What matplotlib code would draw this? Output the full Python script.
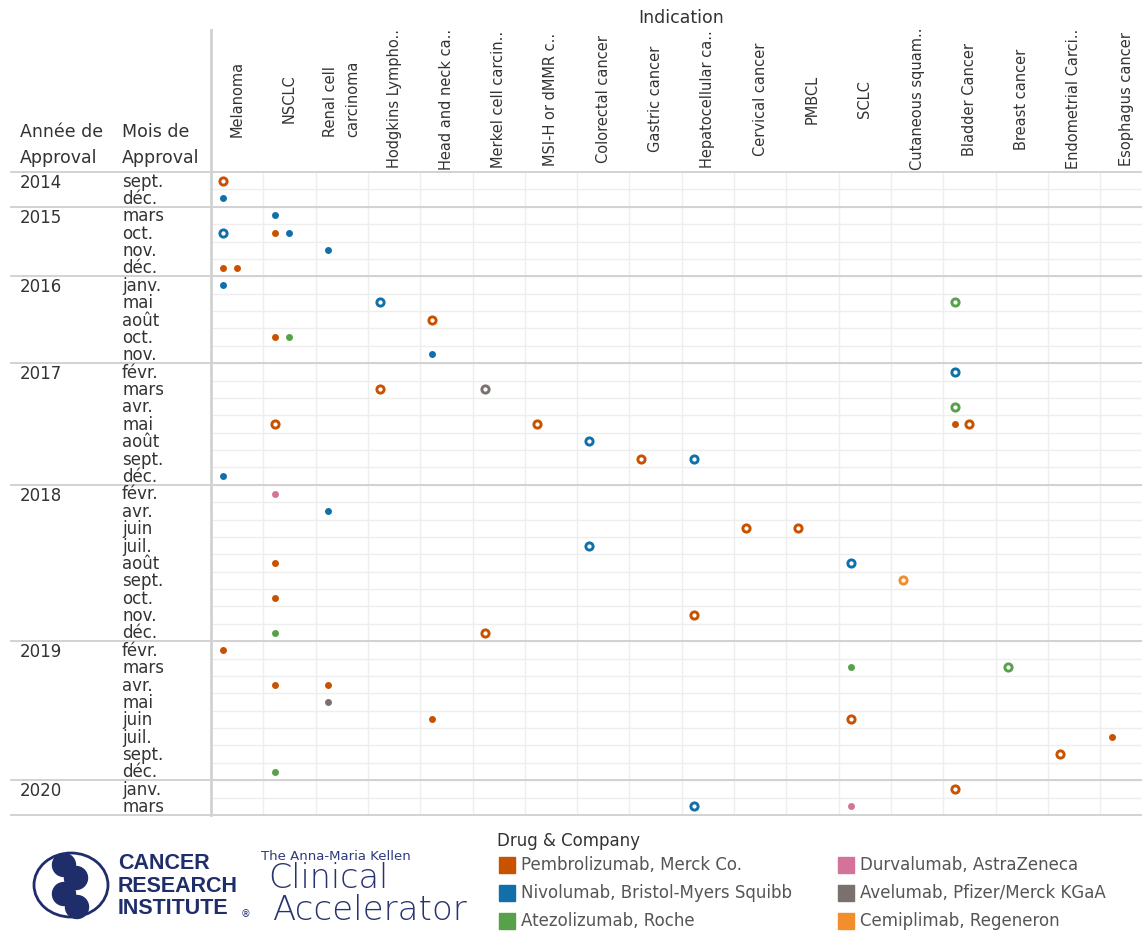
import matplotlib.pyplot as plt
from matplotlib.patches import Ellipse, Circle, Rectangle

plt.rcParams['font.family'] = ['DejaVu Sans']

W, H = 1142, 932

years = ['2014', '2015', '2016', '2017', '2018', '2019', '2020']
months = [
    ['sept.', 'déc.'],
    ['mars', 'oct.', 'nov.', 'déc.'],
    ['janv.', 'mai', 'août', 'oct.', 'nov.'],
    ['févr.', 'mars', 'avr.', 'mai', 'août', 'sept.', 'déc.'],
    ['févr.', 'avr.', 'juin', 'juil.', 'août', 'sept.', 'oct.', 'nov.', 'déc.'],
    ['févr.', 'mars', 'avr.', 'mai', 'juin', 'juil.', 'sept.', 'déc.'],
    ['janv.', 'mars'],
]

indications = ['Melanoma', 'NSCLC', 'Renal cell\ncarcinoma', 'Hodgkins Lympho..',
               'Head and neck ca..', 'Merkel cell carcin..', 'MSI-H or dMMR c..',
               'Colorectal cancer', 'Gastric cancer', 'Hepatocellular ca..',
               'Cervical cancer', 'PMBCL', 'SCLC', 'Cutaneous squam..',
               'Bladder Cancer', 'Breast cancer', 'Endometrial Carci..',
               'Esophagus cancer']

drugs = ['PEM', 'NIV', 'ATE', 'DUR', 'AVE', 'CEM']
drug_labels = ['Pembrolizumab, Merck Co.', 'Nivolumab, Bristol-Myers Squibb',
               'Atezolizumab, Roche', 'Durvalumab, AstraZeneca',
               'Avelumab, Pfizer/Merck KGaA', 'Cemiplimab, Regeneron']
drug_colors = ['#C85200', '#1170AA', '#57A14A', '#D4739A', '#7A706E', '#F28E2B']

# one entry per approval mark
appr_date = ['2014 sept.', '2014 déc.', '2015 mars', '2015 oct.', '2015 oct.',
             '2015 oct.', '2015 nov.', '2015 déc.', '2015 déc.', '2016 janv.',
             '2016 mai', '2016 mai', '2016 août', '2016 oct.', '2016 oct.',
             '2016 nov.', '2017 févr.', '2017 mars', '2017 mars', '2017 avr.',
             '2017 mai', '2017 mai', '2017 mai', '2017 mai', '2017 août',
             '2017 sept.', '2017 sept.', '2017 déc.', '2018 févr.', '2018 avr.',
             '2018 juin', '2018 juin', '2018 juil.', '2018 août', '2018 août',
             '2018 sept.', '2018 oct.', '2018 nov.', '2018 déc.', '2018 déc.',
             '2019 févr.', '2019 mars', '2019 mars', '2019 avr.', '2019 avr.',
             '2019 mai', '2019 juin', '2019 juin', '2019 juil.', '2019 sept.',
             '2019 déc.', '2020 janv.', '2020 mars', '2020 mars']
appr_ind = [0, 0, 1, 0, 1, 1, 2, 0, 0, 0,
            3, 14, 4, 1, 1, 4, 14, 3, 5, 14,
            1, 6, 14, 14, 7, 8, 9, 0, 1, 2,
            10, 11, 7, 1, 12, 13, 1, 9, 1, 5,
            0, 12, 15, 1, 2, 2, 4, 12, 17, 16,
            1, 14, 9, 12]
appr_drug = ['PEM', 'NIV', 'NIV', 'NIV', 'PEM', 'NIV', 'NIV', 'PEM', 'PEM', 'NIV',
             'NIV', 'ATE', 'PEM', 'PEM', 'ATE', 'NIV', 'NIV', 'PEM', 'AVE', 'ATE',
             'PEM', 'PEM', 'PEM', 'PEM', 'NIV', 'PEM', 'NIV', 'NIV', 'DUR', 'NIV',
             'PEM', 'PEM', 'NIV', 'PEM', 'NIV', 'CEM', 'PEM', 'PEM', 'ATE', 'PEM',
             'PEM', 'ATE', 'ATE', 'PEM', 'PEM', 'AVE', 'PEM', 'PEM', 'PEM', 'PEM',
             'ATE', 'PEM', 'NIV', 'DUR']
appr_kind = ['ring', 'dot', 'dot', 'ring', 'dot', 'dot', 'dot', 'dot', 'dot', 'dot',
             'ring', 'ring', 'ring', 'dot', 'dot', 'dot', 'ring', 'ring', 'ring', 'ring',
             'ring', 'ring', 'dot', 'ring', 'ring', 'ring', 'ring', 'dot', 'dot', 'dot',
             'ring', 'ring', 'ring', 'dot', 'ring', 'ring', 'dot', 'ring', 'dot', 'ring',
             'dot', 'dot', 'ring', 'dot', 'dot', 'dot', 'dot', 'ring', 'dot', 'ring',
             'dot', 'ring', 'ring', 'dot']

# row layout
row_keys = []
year_start = []
for y, ms in zip(years, months):
    year_start.append(len(row_keys))
    for m in ms:
        row_keys.append(y + ' ' + m)
n_rows = len(row_keys)

col_px = 52.3
row_px = (815 - 172) / n_rows
grid_c = '#EEEEEE'
sep_c = '#D2D2D2'
txt_c = '#333333'

fig = plt.figure(figsize=(W / 100, H / 100), dpi=100)
ax = fig.add_axes([211 / W, 1 - 815 / H, (W - 211) / W, (815 - 172) / H])
xmax = (W - 211) / col_px
ax.set_xlim(0, xmax)
ax.set_ylim(n_rows, 0)
ax.axis('off')

# grid
ax.vlines(range(1, len(indications)), 0, n_rows, color=grid_c, lw=1, zorder=1)
ax.hlines(range(1, n_rows), 0, xmax, color=grid_c, lw=1, zorder=1)
x_left = -(211 - 10) / col_px
ax.hlines(year_start + [n_rows], x_left, xmax, color=sep_c, lw=1.4,
          clip_on=False, zorder=2)
ax.plot([0, 0], [-(172 - 30) / row_px, n_rows], color=sep_c, lw=2,
        clip_on=False, zorder=2)

# row labels
for y, s in zip(years, year_start):
    ax.text(-(211 - 20) / col_px, s + 0.62, y, fontsize=12, color=txt_c,
            va='center', ha='left', clip_on=False)
for i, key in enumerate(row_keys):
    ax.text(-(211 - 122) / col_px, i + 0.55, key.split(' ')[1], fontsize=12,
            color=txt_c, va='center', ha='left', clip_on=False)

# column headers
for j, lab in enumerate(indications):
    ax.text(j + 0.5, -(172 - 99) / row_px, lab, rotation=90, fontsize=10.5,
            color=txt_c, ha='center', va='center', multialignment='left',
            linespacing=1.6, clip_on=False)

fig.text(20 / W, 1 - 145 / H, 'Année de\nApproval', fontsize=12.5, color=txt_c,
         va='center', ha='left', linespacing=1.55)
fig.text(122 / W, 1 - 145 / H, 'Mois de\nApproval', fontsize=12.5, color=txt_c,
         va='center', ha='left', linespacing=1.55)
fig.text(681 / W, 1 - 18 / H, 'Indication', fontsize=12.5, color=txt_c,
         va='center', ha='center')

# marks
slot_count = {}
for d, ind, dr, kind in zip(appr_date, appr_ind, appr_drug, appr_kind):
    k = (d, ind)
    slot = slot_count.get(k, 0)
    slot_count[k] = slot + 1
    xi = ind + 0.23 + slot * 0.27
    yi = row_keys.index(d) + 0.5
    c = drug_colors[drugs.index(dr)]
    if kind == 'ring':
        ax.plot(xi, yi, 'o', ms=5.2, mfc='white', mec=c, mew=2.1, zorder=5)
    else:
        ax.plot(xi, yi, 'o', ms=5, mfc=c, mec=c, mew=0, zorder=5)

# legend
fig.text(497 / W, 1 - 841 / H, 'Drug & Company', fontsize=12, color=txt_c,
         va='center', ha='left', fontweight='medium')
for k, (lab, c) in enumerate(zip(drug_labels, drug_colors)):
    col, r = divmod(k, 3)
    sx = [499, 838][col]
    tx = [521, 860][col]
    yc = 865 + r * 28
    fig.patches.append(Rectangle((sx / W, 1 - (yc + 8) / H), 16 / W, 16 / H,
                                 transform=fig.transFigure, color=c))
    fig.text(tx / W, 1 - yc / H, lab, fontsize=12, color='#555555',
             va='center', ha='left')

# logo
navy = '#1F2D6B'
lax = fig.add_axes([26 / W, 1 - 924 / H, 88 / W, 76 / H])
lax.set_xlim(26, 114)
lax.set_ylim(924, 848)
lax.axis('off')
lax.add_patch(Ellipse((71, 885), 74, 64, fill=False, ec=navy, lw=2))
for bx, by in [(64, 865), (76, 878), (64, 894), (77, 907)]:
    lax.add_patch(Circle((bx, by), 11.5, color=navy))

fig.text(118 / W, 1 - 886 / H, 'CANCER\nRESEARCH\nINSTITUTE', fontsize=15.5,
         color=navy, va='center', ha='left', fontweight='bold', linespacing=1.08,
         family=['Liberation Sans Narrow', 'Liberation Sans', 'DejaVu Sans'])
fig.text(241 / W, 1 - 914 / H, '®', fontsize=7, color=navy, va='center', ha='left')
fig.text(261 / W, 1 - 857 / H, 'The Anna-Maria Kellen', fontsize=9.5,
         color='#2E3A7C', va='center', ha='left')
fig.text(268 / W, 1 - 879 / H, 'Clinical', fontsize=24, color='#26336F',
         va='center', ha='left', fontweight='light')
fig.text(273 / W, 1 - 911 / H, 'Accelerator', fontsize=24.5, color='#26336F',
         va='center', ha='left', fontweight='light')

fig.savefig('out.png', dpi=100)
